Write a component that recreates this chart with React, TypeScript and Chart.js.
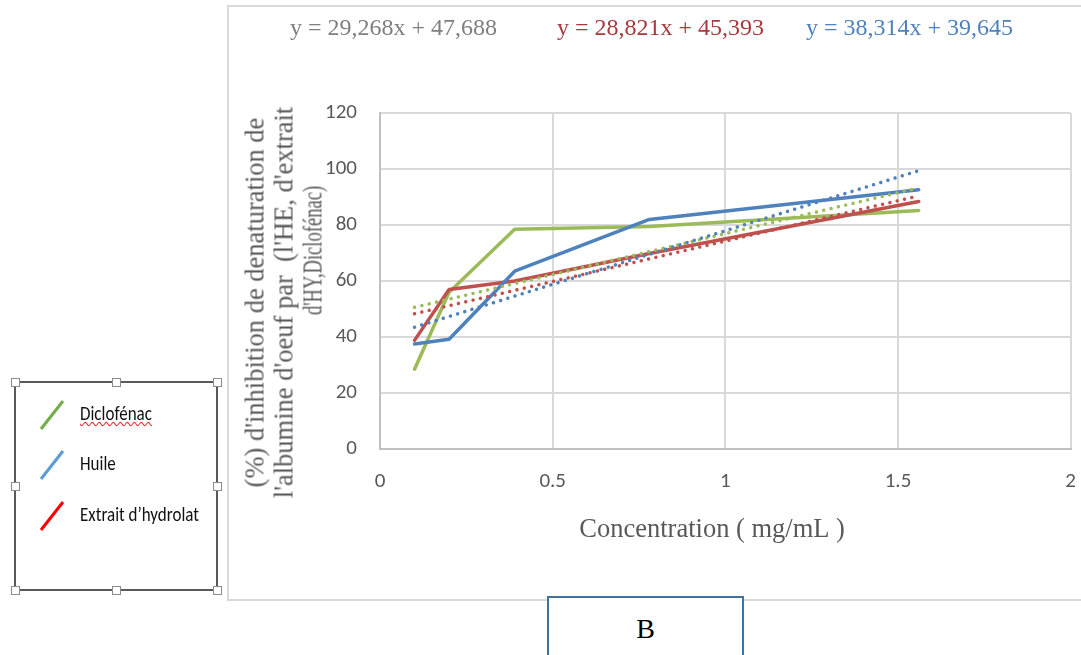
import React, { useEffect, useRef } from "react";
import { Chart, registerables } from "chart.js";

Chart.register(...registerables);

// ---- data ----
const concentrations = [0.1, 0.2, 0.39, 0.78, 1.56];
const diclofenac = [28.5, 56, 78.5, 79.5, 85.2];
const huile = [37.5, 39.2, 63.5, 82, 92.6];
const extrait = [38.8, 57, 60, 69.8, 88.4];

const trendX = [0.1, 1.56];
const trendDiclofenac = [50.6, 93.3];
const trendExtrait = [48.3, 90.4];
const trendHuile = [43.5, 99.4];

const xTickValues = [0, 0.5, 1, 1.5, 2];
const yTickValues = [0, 20, 40, 60, 80, 100, 120];

const equations = [
  "y = 29,268x + 47,688",
  "y = 28,821x + 45,393",
  "y = 38,314x + 39,645",
];
const legendLabels = ["Diclofénac", "Huile", "Extrait d’hydrolat"];
const yTitleLines = [
  "(%) d'inhibition de denaturation de",
  "l'albumine d'oeuf par  (l'HE, d'extrait",
  "d'HY,Diclofénac)",
];
const xTitle = "Concentration ( mg/mL )";
const panelLabel = "B";

const GREEN = "#9BBB59";
const BLUE = "#4F81BD";
const RED = "#C0504D";

const serif = "'Liberation Serif', 'Times New Roman', serif";
const sans = "Carlito, Lato, 'Liberation Sans', sans-serif";

function pts(xs: number[], ys: number[]) {
  return xs.map((x, i) => ({ x, y: ys[i] }));
}

export default function App() {
  const ref = useRef<HTMLCanvasElement | null>(null);

  useEffect(() => {
    if (!ref.current) return;
    const solid = (label: string, ys: number[], color: string) => ({
      label,
      data: pts(concentrations, ys),
      showLine: true,
      borderColor: color,
      backgroundColor: color,
      borderWidth: 3.5,
      pointRadius: 0,
      borderJoinStyle: "round" as const,
      borderCapStyle: "round" as const,
      tension: 0,
    });
    const dotted = (label: string, ys: number[], color: string) => ({
      label,
      data: pts(trendX, ys),
      showLine: true,
      borderColor: color,
      backgroundColor: color,
      borderWidth: 3.5,
      pointRadius: 0,
      borderCapStyle: "round" as const,
      borderDash: [0.01, 7.5],
      tension: 0,
    });
    const chart = new Chart(ref.current, {
      type: "scatter",
      data: {
        datasets: [
          dotted("trend Huile", trendHuile, BLUE),
          dotted("trend Diclofénac", trendDiclofenac, GREEN),
          dotted("trend Extrait", trendExtrait, RED),
          solid("Huile", huile, BLUE),
          solid("Extrait", extrait, RED),
          solid("Diclofénac", diclofenac, GREEN),
        ],
      },
      options: {
        animation: false,
        responsive: true,
        maintainAspectRatio: false,
        layout: { padding: { left: 228, top: 113, right: 0, bottom: 95 } },
        plugins: { legend: { display: false }, tooltip: { enabled: false } },
        scales: {
          x: {
            type: "linear",
            min: 0,
            max: 2,
            afterBuildTicks: (scale: any) => {
              scale.ticks = xTickValues.map((v) => ({ value: v }));
            },
            afterFit: (scale: any) => {
              scale.height = 111;
            },
            ticks: {
              padding: 20,
              color: "#595959",
              font: { family: sans, size: 21 },
              callback: (v: any) => String(v),
            },
            grid: { color: "#d9d9d9", lineWidth: 2, drawTicks: false },
            border: { display: true, color: "#bfbfbf", width: 2 },
            title: {
              display: true,
              text: xTitle + "\u00A0\u00A0\u00A0\u00A0",
              color: "#595959",
              font: { family: serif, size: 26.5 },
              padding: { top: 0, bottom: 14 },
            },
          },
          y: {
            type: "linear",
            min: 0,
            max: 120,
            afterBuildTicks: (scale: any) => {
              scale.ticks = yTickValues.map((v) => ({ value: v }));
            },
            afterFit: (scale: any) => {
              scale.width = 380 - 228;
            },
            ticks: {
              padding: 23,
              color: "#595959",
              font: { family: sans, size: 21 },
              callback: (v: any) => String(v),
            },
            grid: { color: "#d9d9d9", lineWidth: 2, drawTicks: false },
            border: { display: true, color: "#bfbfbf", width: 2 },
          },
        },
      },
    });
    return () => chart.destroy();
  }, []);

  const handle = (x: number, y: number) => (
    <div
      key={`${x}-${y}`}
      style={{
        position: "absolute",
        left: x - 4,
        top: y - 4,
        width: 7,
        height: 7,
        background: "#fff",
        border: "1px solid #8c8c8c",
      }}
    />
  );

  const legendColors = ["#70AD47", "#5B9BD5", "#FF0000"];
  const legendY = [414, 464, 515];

  return (
    <div
      style={{
        position: "fixed",
        left: 0,
        top: 0,
        width: 1081,
        height: 655,
        overflow: "hidden",
        background: "#fff",
      }}
    >
      {/* chart frame */}
      <div
        style={{
          position: "absolute",
          left: 227,
          top: 5,
          width: 900,
          height: 596,
          border: "2px solid #d9d9d9",
          boxSizing: "border-box",
        }}
      />
      <div style={{ position: "absolute", left: 0, top: 0, width: 1096, height: 655 }}>
        <canvas ref={ref} />
      </div>

      {/* trendline equations */}
      {equations.map((t, i) => (
        <div
          key={t}
          style={{
            position: "absolute",
            left: [290, 557, 806][i],
            top: 13,
            fontFamily: serif,
            fontSize: 24,
            lineHeight: "28px",
            whiteSpace: "nowrap",
            color: ["#7F7F7F", "#A5393D", "#4F81BD"][i],
          }}
        >
          {t}
        </div>
      ))}

      {/* y axis title */}
      <div
        style={{
          position: "absolute",
          left: 284 - 220,
          top: 302 - 43.5,
          width: 440,
          height: 87,
          transform: "rotate(-90deg)",
          transformOrigin: "center center",
          fontFamily: serif,
          fontSize: 26.5,
          lineHeight: "29px",
          color: "#595959",
          textAlign: "center",
          whiteSpace: "pre",
        }}
      >
        <div>{yTitleLines[0]}</div>
        <div>{yTitleLines[1]}</div>
        <div style={{ position: "relative", height: 29 }}>
          <span
            style={{
              position: "absolute",
              left: 220 + 52,
              top: 0,
              transform: "translateX(-50%) scaleX(0.7)",
              whiteSpace: "pre",
            }}
          >
            {yTitleLines[2]}
          </span>
        </div>
      </div>

      {/* legend text box */}
      <div
        style={{
          position: "absolute",
          left: 14,
          top: 381,
          width: 204,
          height: 210,
          border: "2px solid #595959",
          boxSizing: "border-box",
        }}
      />
      <svg
        style={{ position: "absolute", left: 0, top: 0 }}
        width={230}
        height={655}
      >
        {legendColors.map((c, i) => (
          <line
            key={c}
            x1={41}
            y1={legendY[i] + 15}
            x2={63}
            y2={legendY[i] - 13}
            stroke={c}
            strokeWidth={3}
          />
        ))}
      </svg>
      {legendLabels.map((l, i) => (
        <div
          key={l}
          style={{
            position: "absolute",
            left: 80,
            top: legendY[i] - 12,
            fontFamily: sans,
            fontSize: 17,
            lineHeight: "24px",
            color: "#111",
            whiteSpace: "nowrap",
            transform: "scaleY(1.2)",
            transformOrigin: "left center",
            textDecoration: i === 0 ? "underline wavy #e03030" : "none",
            textDecorationThickness: i === 0 ? "1px" : undefined,
          }}
        >
          {l}
        </div>
      ))}
      {[
        [15, 382],
        [116, 382],
        [217, 382],
        [15, 486],
        [217, 486],
        [15, 590],
        [116, 590],
        [217, 590],
      ].map(([x, y]) => handle(x, y))}

      {/* panel label box */}
      <div
        style={{
          position: "absolute",
          left: 547,
          top: 596,
          width: 197,
          height: 70,
          border: "2px solid #41719C",
          boxSizing: "border-box",
          background: "#fff",
          fontFamily: serif,
          fontSize: 28,
          color: "#000",
          textAlign: "center",
          lineHeight: "32px",
          paddingTop: 15,
        }}
      >
        {panelLabel}
      </div>
    </div>
  );
}
